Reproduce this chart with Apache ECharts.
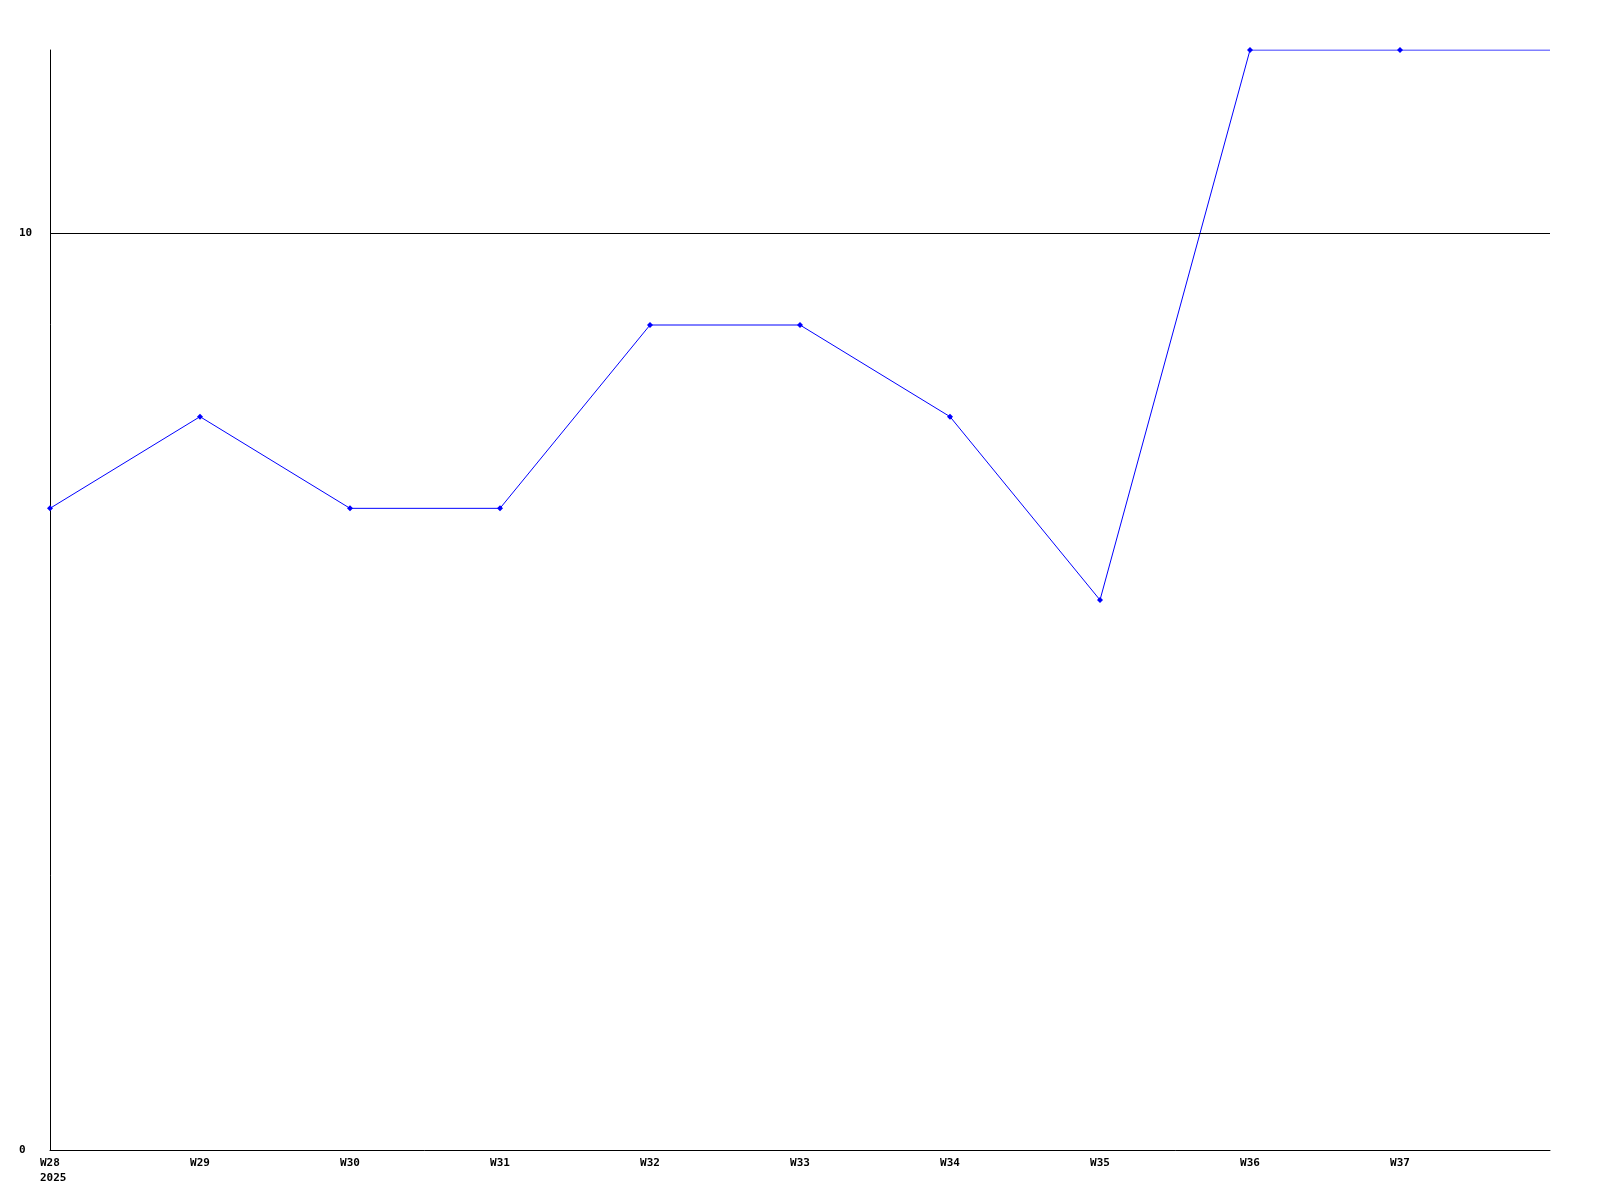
<!DOCTYPE html>
<html>
<head>
<meta charset="utf-8">
<script src="https://cdn.jsdelivr.net/npm/echarts@6/dist/echarts.min.js"></script>
<style>
    html, body { margin: 0; padding: 0; background: #fff; }
    #chart { width: 1600px; height: 1200px; }
</style>
</head>
<body>
<div id="chart"></div>
<script>
    // weeks on the x axis, last slot is the right edge with no label
    var weeks = ['W28\n2025', 'W29', 'W30', 'W31', 'W32', 'W33', 'W34', 'W35', 'W36', 'W37', ''];
    var values = [7, 8, 7, 7, 9, 9, 8, 6, 12, 12, 12];
    var refLine = 10;

    var chart = echarts.init(document.getElementById('chart'));
    var labelFont = { fontFamily: 'DejaVu Sans Mono', fontWeight: 'bold', fontSize: 11, color: '#000' };

    var seriesData = values.map(function (v, i) {
        if (i === values.length - 1) {
            return { value: v, symbol: 'none' };
        }
        return v;
    });

    chart.setOption({
        animation: false,
        grid: { left: 50, right: 50, top: 50, bottom: 50, containLabel: false },
        xAxis: {
            type: 'category',
            boundaryGap: false,
            data: weeks,
            axisLine: { lineStyle: { color: '#000', width: 1 } },
            axisTick: { show: false },
            splitLine: { show: false },
            axisLabel: Object.assign({
                interval: 0,
                margin: 6,
                lineHeight: 15,
                align: 'center',
                formatter: function (val) {
                    // first label: year sits left-aligned under the week
                    if (val.indexOf('\n') >= 0) {
                        return val.split('\n').map(function (s) { return '{a|' + s + '}'; }).join('\n');
                    }
                    return val;
                },
                rich: {
                    a: Object.assign({ width: 20, align: 'left', lineHeight: 15 }, labelFont)
                }
            }, labelFont)
        },
        yAxis: {
            type: 'value',
            min: 0,
            max: 12,
            interval: 10,
            axisLine: { show: true, lineStyle: { color: '#000', width: 1 } },
            axisTick: { show: false },
            splitLine: { show: false },
            axisLabel: Object.assign({
                showMaxLabel: false,
                align: 'left',
                margin: 31
            }, labelFont)
        },
        series: [
            {
                type: 'line',
                data: seriesData,
                symbol: 'diamond',
                symbolSize: 6,
                showAllSymbol: true,
                lineStyle: { color: '#0000ff', width: 1 },
                itemStyle: { color: '#0000ff' },
                markLine: {
                    silent: true,
                    symbol: 'none',
                    label: { show: false },
                    lineStyle: { color: '#000', width: 1, type: 'solid' },
                    data: [{ yAxis: refLine }]
                }
            }
        ]
    });
</script>
</body>
</html>
